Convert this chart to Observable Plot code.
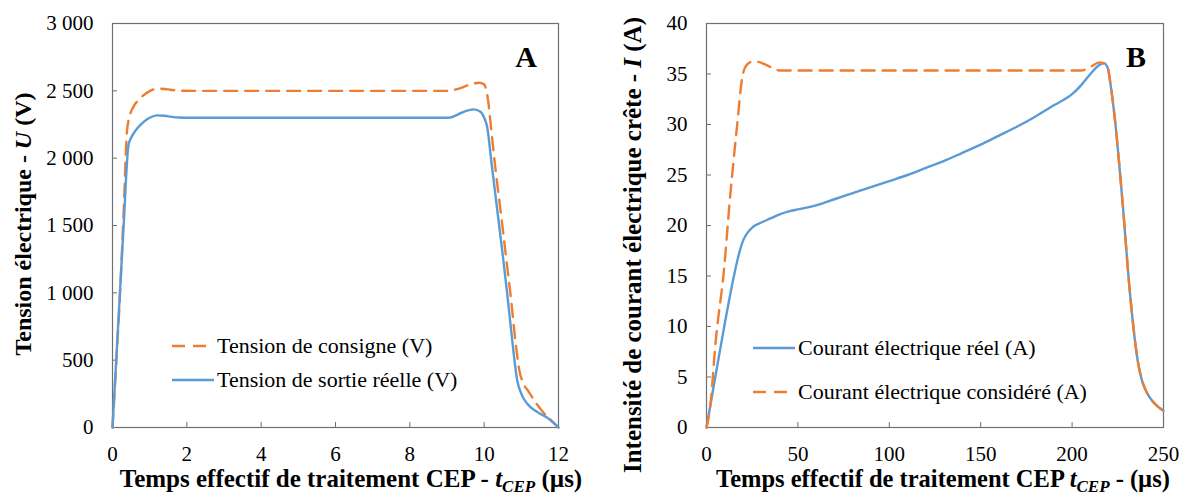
<!DOCTYPE html>
<html><head><meta charset="utf-8">
<script src="https://cdn.jsdelivr.net/npm/d3@7"></script>
<script src="https://cdn.jsdelivr.net/npm/@observablehq/plot@0.6"></script>
<style>
html,body{margin:0;padding:0;background:#fff;}
#wrap{display:flex;width:1185px;height:500px;overflow:hidden;}
#wrap svg{display:block;flex:none;}
</style></head><body><div id="wrap"></div>
<script>
// ---------- Panel A : tension ----------
const tConsigne = [0, 0.1, 0.2, 0.3, 0.39, 0.47, 0.57, 0.7, 0.84, 1.0, 1.2, 1.4, 1.56, 1.83, 2.2, 9.0, 9.3, 9.6, 9.86, 10.0, 10.06, 10.12, 10.18, 10.3, 10.45, 10.6, 10.72, 10.85, 10.95, 11.05, 11.2, 11.4, 11.6, 11.8, 12.0];
const uConsigne = [0, 480, 980, 1600, 2200, 2320, 2385, 2432, 2468, 2498, 2516, 2514, 2508, 2501, 2500, 2500, 2515, 2545, 2560, 2548, 2500, 2400, 2240, 1930, 1590, 1240, 960, 620, 420, 330, 265, 180, 110, 55, 0];
const tReelle = [0, 0.1, 0.2, 0.3, 0.43, 0.5, 0.57, 0.7, 0.84, 1.0, 1.2, 1.4, 1.6, 1.8, 2.0, 9.05, 9.3, 9.5, 9.72, 9.9, 10.0, 10.08, 10.2, 10.35, 10.5, 10.62, 10.75, 10.89, 11.0, 11.16, 11.4, 11.7, 12.0];
const uReelle = [0, 500, 1000, 1500, 2100, 2150, 2185, 2232, 2270, 2300, 2318, 2315, 2307, 2302, 2300, 2300, 2325, 2350, 2362, 2345, 2300, 2233, 1960, 1620, 1280, 994, 660, 349, 250, 176, 120, 72, 0];
const xTicksA = [0, 2, 4, 6, 8, 10, 12];
const yTicksA = [0, 500, 1000, 1500, 2000, 2500, 3000];
const legendA = ["Tension de consigne (V)", "Tension de sortie réelle (V)"];

// ---------- Panel B : courant ----------
const tConsidere = [0, 2, 5, 9.5, 13, 16.8, 19.5, 22, 25, 28, 32, 36, 40, 205, 210, 215, 217.5, 219.5, 221, 223.3, 227.5, 231.7, 236, 238, 240, 242, 245, 250];
const iConsidere = [0, 2, 8.5, 15.5, 23, 30, 34.6, 35.9, 36.2, 36.2, 35.95, 35.6, 35.35, 35.35, 35.7, 36.15, 36.05, 35.6, 34, 30.7, 22.5, 13.2, 6.5, 4.8, 3.8, 3.1, 2.4, 1.65];
const tReel = [0, 5, 10, 15, 17.5, 20, 22.5, 25, 30, 35, 40, 45, 50, 60, 70, 80, 90, 100, 110, 120, 130, 140, 150, 160, 170, 180, 190, 200, 205, 210, 215, 217.5, 219.5, 221, 223.3, 227.5, 231.7, 236, 238, 240, 242, 245, 250];
const iReel = [0, 5.2, 10.3, 15, 17, 18.5, 19.3, 19.8, 20.3, 20.7, 21.1, 21.4, 21.6, 22.0, 22.6, 23.2, 23.8, 24.4, 25.0, 25.7, 26.4, 27.2, 28.0, 28.9, 29.8, 30.8, 31.9, 33.0, 33.9, 35.0, 35.9, 36.05, 35.6, 34, 30.7, 22.5, 13.2, 6.5, 4.8, 3.8, 3.1, 2.4, 1.65];
const xTicksB = [0, 50, 100, 150, 200, 250];
const yTicksB = [0, 5, 10, 15, 20, 25, 30, 35, 40];
const legendB = ["Courant électrique réel (A)", "Courant électrique considéré (A)"];

const BLUE = "#5b9bd5", ORANGE = "#ed7d31", FRAME = "#707070";
const DASH = "13,8", LW = 2.4;
const FONT = "'Liberation Serif', 'Times New Roman', serif";

const rows = (ts, vs) => ts.map((t, i) => ({t, v: vs[i]}));
const fmtSpace = d => d3.format(",")(d).replace(/,/g, " ");

function panel(cfg) {
  const chart = Plot.plot({
    width: cfg.width, height: 500,
    marginLeft: cfg.ml, marginRight: cfg.mr, marginTop: 23, marginBottom: 73,
    x: {domain: cfg.xDomain, label: null},
    y: {domain: cfg.yDomain, label: null},
    marks: [
      Plot.axisX(cfg.xTicks, {tickSize: -5, tickPadding: 24, stroke: FRAME, fill: "#000", label: null}),
      Plot.axisY(cfg.yTicks, {tickSize: -5, tickPadding: 24, stroke: FRAME, fill: "#000", label: null, tickFormat: cfg.yFmt}),
      Plot.frame({stroke: FRAME, strokeWidth: 1.2}),
      ...cfg.series.map(s => Plot.lineY(s.data, {x: "t", y: "v", stroke: s.color, strokeWidth: LW, strokeDasharray: s.dash ? DASH : null, curve: "monotone-x"}))
    ]
  });
  const svg = d3.select(chart);
  svg.attr("font-family", FONT).attr("font-size", 21)
     .style("font-family", FONT).style("font-size", "21px").style("background", "#fff").style("overflow", "visible");
  // legend
  const lg = svg.append("g").attr("font-family", FONT).attr("font-size", 22).attr("text-anchor", "start");
  cfg.series.forEach((s, i) => {
    const y = cfg.legY[i];
    lg.append("line").attr("x1", cfg.legX).attr("x2", cfg.legX + 42).attr("y1", y).attr("y2", y)
      .attr("stroke", s.color).attr("stroke-width", LW).attr("stroke-dasharray", s.dash ? DASH : null);
    lg.append("text").attr("x", cfg.legX + 45).attr("y", y).attr("dy", "0.33em").attr("fill", "#000").attr("text-anchor", "start").text(s.label);
  });
  // panel letter
  svg.append("text").attr("x", cfg.letterX).attr("y", 67).attr("text-anchor", "middle")
    .attr("font-family", FONT).attr("font-weight", "bold").attr("font-size", 30).text(cfg.letter);
  // axis titles
  const g = svg.append("g").attr("font-family", FONT).attr("font-weight", "bold").attr("fill", "#000");
  const tx = g.append("text").attr("x", cfg.xtX).attr("y", 487).attr("text-anchor", "middle").attr("font-size", cfg.xtSize);
  cfg.xTitle.forEach(p => {
    const sp = tx.append("tspan").text(p.t);
    if (p.i) sp.attr("font-style", "italic");
    if (p.sub) sp.attr("font-size", 17).attr("dy", 5);
    if (p.up) sp.attr("dy", -5);
  });
  const ty = g.append("text").attr("transform", `translate(${cfg.ytX},${cfg.ytY}) rotate(-90)`).attr("text-anchor", "middle").attr("font-size", cfg.ytSize);
  cfg.yTitle.forEach(p => {
    const sp = ty.append("tspan").text(p.t);
    if (p.i) sp.attr("font-style", "italic");
  });
  return chart;
}

const wrap = document.getElementById("wrap");
wrap.appendChild(panel({
  width: 590, ml: 112, mr: 32,
  xDomain: [0, 12], yDomain: [0, 3000], xTicks: xTicksA, yTicks: yTicksA, yFmt: fmtSpace,
  series: [
    {data: rows(tConsigne, uConsigne), color: ORANGE, dash: true, label: legendA[0]},
    {data: rows(tReelle, uReelle), color: BLUE, dash: false, label: legendA[1]}
  ],
  legX: 172, legY: [346, 380], letter: "A", letterX: 526,
  xtX: 351, xtSize: 25, xTitle: [{t: "Temps effectif de traitement CEP - "}, {t: "t", i: true}, {t: "CEP", i: true, sub: true}, {t: " (µs)", up: true}],
  ytX: 31, ytY: 224, ytSize: 24, yTitle: [{t: "Tension électrique - "}, {t: "U", i: true}, {t: " (V)"}]
}));
wrap.appendChild(panel({
  width: 595, ml: 116, mr: 22,
  xDomain: [0, 250], yDomain: [0, 40], xTicks: xTicksB, yTicks: yTicksB, yFmt: d => String(d),
  series: [
    {data: rows(tReel, iReel), color: BLUE, dash: false, label: legendB[0]},
    {data: rows(tConsidere, iConsidere), color: ORANGE, dash: true, label: legendB[1]}
  ],
  legX: 163, legY: [348, 392], letter: "B", letterX: 546,
  xtX: 353, xtSize: 24.5, xTitle: [{t: "Temps effectif de traitement CEP "}, {t: "t", i: true}, {t: "CEP", i: true, sub: true}, {t: " - (µs)", up: true}],
  ytX: 51, ytY: 245, ytSize: 25, yTitle: [{t: "Intensité de courant électrique crête - "}, {t: "I", i: true}, {t: " (A)"}]
}));
</script>
</body></html>
